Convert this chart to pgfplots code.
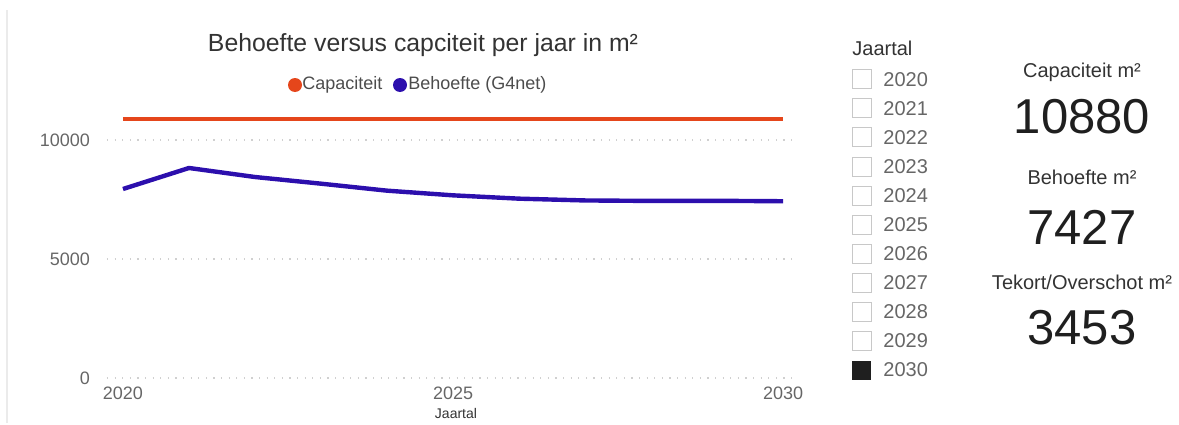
\documentclass[border=0pt]{standalone}
\usepackage{pgfplots}
\pgfplotsset{compat=1.18}
\usepackage{fontspec}
\setmainfont{Liberation Sans}
\definecolor{capcol}{HTML}{E5461B}
\definecolor{behcol}{HTML}{2C0FAD}
\definecolor{ticktxt}{HTML}{666666}
\definecolor{gridc}{HTML}{D0D0D0}
\definecolor{boxc}{HTML}{C8C8C8}
\begin{document}
\begin{tikzpicture}
% bounding box in pixel units (1px = 0.5pt)
\begin{scope}[x=0.5pt,y=-0.5pt]
\path[use as bounding box] (0,0) rectangle (1179,423);
\draw[black!8, line width=0.6pt] (7,10) -- (7,423);
\end{scope}
\begin{axis}[
  at={(53.5pt,-189pt)}, anchor=origin,
  scale only axis, width=344pt, height=136.85pt,
  xmin=2019.758, xmax=2030.18, ymin=0, ymax=11500,
  axis line style={draw=none},
  scaled y ticks=false, scaled x ticks=false,
  xtick={2020,2025,2030}, ytick={0,5000,10000},
  xticklabels={2020,2025,2030}, yticklabels={0,5000,10000},
  major tick length=0pt,
  ymajorgrids, grid style={gridc, line width=0.6pt, dash pattern=on 0.6pt off 3.2pt},
  tick label style={font=\fontsize{9}{10}\selectfont, text=ticktxt},
  yticklabel style={xshift=-5pt},
  xticklabel style={yshift=-1pt},
  clip=false,
]
\addplot[capcol, line width=2pt] coordinates {
(2020,10880)(2021,10880)(2022,10880)(2023,10880)(2024,10880)(2025,10880)(2026,10880)(2027,10880)(2028,10880)(2029,10880)(2030,10880)};
\addplot[behcol, line width=2.2pt, line join=round] coordinates {
(2020,7941)(2021,8824)(2022,8445)(2023,8165)(2024,7871)(2025,7675)(2026,7535)(2027,7460)(2028,7440)(2029,7445)(2030,7427)};
\end{axis}
\begin{scope}[x=0.5pt,y=-0.5pt]
% title
\node[font=\fontsize{12.4}{14}\selectfont, text=black!80] at (423,45) {Behoefte versus capciteit per jaar in m²};
% legend
\fill[capcol] (295,85) circle (7);
\node[anchor=west, font=\fontsize{9}{10}\selectfont, text=black!70, inner sep=0pt] at (302,85) {Capaciteit};
\fill[behcol] (400,85) circle (7);
\node[anchor=west, font=\fontsize{9}{10}\selectfont, text=black!70, inner sep=0pt] at (408,85) {Behoefte (G4net)};
% x label
\node[font=\fontsize{7}{8}\selectfont, text=black!80] at (456,413) {Jaartal};
% slicer
\node[anchor=west, inner sep=0pt, font=\fontsize{10}{12}\selectfont, text=black!80] at (852,48) {Jaartal};
\foreach \yr [count=\i from 0] in {2020,2021,2022,2023,2024,2025,2026,2027,2028,2029} {
  \pgfmathsetmacro{\yy}{79.3+29.07*\i}
  \draw[boxc, line width=0.5pt] (852,\yy-9.5) rectangle (871,\yy+9.5);
  \node[anchor=west, inner sep=0pt, font=\fontsize{10}{12}\selectfont, text=ticktxt] at (883,\yy) {\yr};
}
\fill[black!88] (852,360.5) rectangle (871,379.5);
\node[anchor=west, inner sep=0pt, font=\fontsize{10}{12}\selectfont, text=ticktxt] at (883,370) {2030};
% cards
\node[font=\fontsize{10}{12}\selectfont, text=black!80] at (1082,72) {Capaciteit m²};
\node[font=\fontsize{24.5}{28}\selectfont, text=black!88] at (1082,117) {10880};
\node[font=\fontsize{10}{12}\selectfont, text=black!80] at (1082,177) {Behoefte m²};
\node[font=\fontsize{24.5}{28}\selectfont, text=black!88] at (1082,227) {7427};
\node[font=\fontsize{10}{12}\selectfont, text=black!80] at (1082,282) {Tekort/Overschot m²};
\node[font=\fontsize{24.5}{28}\selectfont, text=black!88] at (1082,328) {3453};
\end{scope}
\end{tikzpicture}
\end{document}
